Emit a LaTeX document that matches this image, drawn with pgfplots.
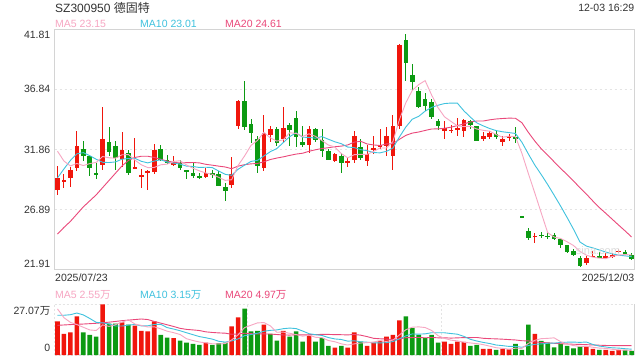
\documentclass[border=0pt]{standalone}
\usepackage{fontspec}
\setmainfont{Liberation Sans}
\newfontfamily\cjk{Noto Sans CJK SC}
\usepackage{pgfplots}
\usepackage{pgfplotstable}
\pgfplotsset{compat=1.18}

\definecolor{cUp}{RGB}{240,22,12}
\definecolor{cDn}{RGB}{12,154,18}
\definecolor{cMAa}{RGB}{247,166,194}
\definecolor{cMAb}{RGB}{64,194,222}
\definecolor{cMAc}{RGB}{234,72,122}
\definecolor{cFrame}{RGB}{212,212,212}
\definecolor{cGrid}{RGB}{228,228,228}
\definecolor{cTxt}{RGB}{51,51,51}

\pgfplotstableread{
n o h l c
1 28.54 30.48 28.05 29.51
2 29.15 29.79 28.63 29.37
3 29.46 30.45 28.77 30.20
4 30.31 33.38 30.04 32.19
8 30.58 35.40 30.16 32.69
11 31.07 33.31 30.37 31.78
13 30.34 32.83 30.34 30.39
14 29.65 30.26 28.68 29.69
15 30.02 30.14 28.54 30.05
16 29.98 32.28 29.79 31.80
19 30.58 31.28 30.49 30.78
24 29.56 30.33 29.46 29.87
28 28.88 31.22 28.68 29.85
29 33.79 35.95 33.58 35.84
33 30.29 34.68 30.06 33.19
34 33.10 33.79 32.47 33.52
36 32.69 35.40 32.47 33.68
40 32.27 33.79 31.59 33.52
44 30.89 31.53 30.84 31.45
46 30.70 31.17 30.43 30.89
47 30.97 33.38 30.70 33.01
49 30.89 32.27 30.53 31.45
50 31.80 32.96 31.45 32.00
51 32.05 33.52 31.86 32.27
52 32.13 33.74 31.36 33.02
53 31.36 34.76 30.14 33.79
54 33.79 40.62 33.52 40.51
61 33.38 34.21 32.69 33.66
62 33.44 33.85 33.24 33.48
63 33.55 34.49 33.02 33.60
64 33.38 34.35 32.91 34.27
67 32.69 33.29 32.55 32.96
68 32.91 33.38 32.69 33.24
70 32.52 33.02 32.13 32.77
71 32.86 33.16 32.55 32.96
75 24.65 24.95 24.07 24.69
83 22.41 23.01 22.30 22.88
84 22.99 23.43 22.96 23.03
86 22.95 23.24 22.80 22.98
87 22.96 23.29 22.88 23.15
88 23.40 23.65 23.24 23.44
}\candUp

\pgfplotstableread{
n o h l c
5 31.86 32.57 30.89 31.36
6 31.28 31.36 29.66 30.34
7 29.89 30.76 29.41 29.84
9 32.50 33.74 31.31 31.64
10 32.19 32.55 30.20 31.17
12 31.59 31.78 29.75 29.90
17 31.86 32.25 30.87 31.03
18 30.95 31.40 30.62 30.70
20 30.70 31.03 30.12 30.34
21 30.12 30.13 29.41 30.07
22 29.93 30.78 29.50 29.65
23 29.64 29.87 29.43 29.60
25 29.85 30.16 29.46 29.80
26 29.79 30.08 28.82 28.82
27 28.79 29.10 27.55 28.40
30 35.90 37.50 33.46 33.71
31 33.99 34.35 32.42 33.19
32 32.69 33.02 29.93 30.48
35 33.58 33.71 32.13 32.42
37 33.85 34.02 32.19 33.44
38 34.49 35.04 32.05 32.88
39 32.52 33.79 32.03 32.27
41 33.60 33.66 32.47 32.63
42 32.61 33.52 31.26 31.72
43 31.72 31.92 30.95 31.03
45 31.31 31.59 29.93 30.76
48 32.08 32.69 30.97 31.17
55 40.98 41.40 37.52 39.05
56 38.00 38.99 36.78 37.44
57 36.75 37.06 35.26 35.40
58 36.01 36.56 35.04 35.45
59 35.78 36.01 34.39 34.57
60 34.21 34.41 33.46 33.79
65 34.21 34.29 33.52 33.88
66 33.79 33.81 32.53 32.55
69 33.16 33.38 32.69 32.88
72 32.86 33.71 32.42 32.82
73 26.26 26.26 26.26 26.26
74 25.09 25.37 24.36 24.54
76 24.81 25.02 24.52 24.67
77 24.70 24.95 24.46 24.66
78 24.73 24.90 24.34 24.46
79 24.46 24.48 23.71 23.90
80 23.90 23.98 23.24 23.34
81 23.43 23.57 23.01 23.15
82 22.88 23.07 22.10 22.24
85 23.01 23.34 22.88 22.93
89 23.31 23.49 23.10 23.27
90 23.15 23.24 22.66 22.74
}\candDn

\pgfplotstableread{
n v
1 18.03
2 11.37
3 12.09
4 20.75
8 27.07
11 17.51
13 15.70
14 12.99
15 12.63
16 18.03
19 9.02
24 6.68
28 15.34
29 20.21
33 16.24
36 12.99
40 10.47
44 3.97
46 3.97
47 12.09
49 4.87
50 6.68
51 7.58
52 9.91
53 10.83
54 18.57
61 7.22
62 5.96
63 7.22
64 7.04
67 3.25
68 3.25
70 3.25
71 3.07
75 11.37
83 4.51
84 3.25
86 2.71
87 2.17
88 2.71
}\volUp

\pgfplotstableread{
n v
5 12.09
6 10.83
7 9.91
9 16.78
10 16.78
12 16.24
17 10.83
18 9.38
20 7.76
21 6.68
22 5.96
23 5.41
25 5.41
26 6.32
27 6.68
30 24.90
31 12.63
32 12.99
34 11.37
35 7.76
37 9.91
38 12.63
39 7.22
41 7.22
42 9.02
43 4.87
45 4.87
48 7.22
55 20.75
56 14.44
57 10.83
58 9.02
59 10.83
60 6.68
65 4.87
66 5.41
69 2.71
72 5.96
73 2.71
74 16.24
76 7.58
77 6.68
78 4.15
79 5.96
80 4.87
81 3.61
82 4.51
85 2.71
89 2.71
90 2.17
}\volDn

\pgfplotsset{
  wick/.style={forget plot, draw=none, mark=none,
    error bars/.cd, y dir=both, y explicit, error mark=none,
    error bar style={solid, draw=#1, line width=0.9bp}},
  body/.style={forget plot, draw=none, mark=none,
    error bars/.cd, y dir=both, y explicit, error mark=none,
    error bar style={solid, draw=#1, line width=4.6bp}},
}

\begin{document}
\begin{tikzpicture}
\fill[white] (0,0) rectangle (640bp,360bp);
\path[use as bounding box] (0,0) rectangle (640bp,360bp);

% ---------- price panel ----------
\begin{axis}[
  at={(54.5bp,90.5bp)}, anchor=south west,
  scale only axis, width=580bp, height=240bp,
  xmin=0.535, xmax=90.457, ymin=21.91, ymax=41.81,
  axis line style={draw=cFrame, line width=1bp},
  xtick=\empty,
  ytick={26.89,31.86,36.84}, yticklabels={},
  major tick length=0pt,
  ymajorgrids,
  grid style={draw=cGrid, line width=1.5bp, dash pattern=on 2.5bp off 2.5bp},
]
\addplot[wick=cUp] table[x=n, y expr={(\thisrow{h}+\thisrow{l})/2}, y error expr={(\thisrow{h}-\thisrow{l})/2}] {\candUp};
\addplot[wick=cDn] table[x=n, y expr={(\thisrow{h}+\thisrow{l})/2}, y error expr={(\thisrow{h}-\thisrow{l})/2}] {\candDn};
\addplot[body=cUp] table[x=n, y expr={(\thisrow{o}+\thisrow{c})/2}, y error expr={max(abs(\thisrow{o}-\thisrow{c})/2,0.045)}] {\candUp};
\addplot[body=cDn] table[x=n, y expr={(\thisrow{o}+\thisrow{c})/2}, y error expr={max(abs(\thisrow{o}-\thisrow{c})/2,0.045)}] {\candDn};

% MA20
\addplot[cMAc, line width=0.9bp] coordinates {(1,24.85)(2,25.4)(3,25.9)(4,26.5)(5,27.1)(6,27.6)(7,28.1)(8,28.7)(9,29.3)(10,29.9)(11,30.5)(12,30.95)(13,31.2)(14,31.3)(15,31.3)(16,31.2)(17,31.05)(18,30.9)(19,30.8)(20,30.74)(21,30.77)(22,30.78)(23,30.75)(24,30.63)(25,30.56)(26,30.48)(27,30.41)(28,30.27)(29,30.48)(30,30.60)(31,30.67)(32,30.70)(33,30.84)(34,31.03)(35,31.15)(36,31.25)(37,31.37)(38,31.48)(39,31.55)(40,31.71)(41,31.84)(42,31.94)(43,32.01)(44,32.09)(45,32.14)(46,32.24)(47,32.47)(48,32.54)(49,32.32)(50,32.24)(51,32.19)(52,32.32)(53,32.35)(54,32.70)(55,33.03)(56,33.22)(57,33.31)(58,33.44)(59,33.56)(60,33.57)(61,33.62)(62,33.71)(63,33.84)(64,33.98)(65,34.14)(66,34.22)(67,34.22)(68,34.32)(69,34.39)(70,34.43)(71,34.46)(72,34.45)(73,34.08)(74,33.28)(75,32.56)(76,31.92)(77,31.39)(78,30.84)(79,30.30)(80,29.78)(81,29.25)(82,28.69)(83,28.16)(84,27.59)(85,27.05)(86,26.57)(87,26.08)(88,25.59)(89,25.11)(90,24.61)};
% MA10
\addplot[cMAb, line width=0.9bp] coordinates {(1,29.50)(2,30.25)(3,30.95)(4,31.5)(5,31.6)(6,31.35)(7,31.05)(8,30.8)(9,30.78)(10,30.83)(11,31.06)(12,31.11)(13,31.13)(14,30.88)(15,30.75)(16,30.90)(17,31.01)(18,30.82)(19,30.73)(20,30.65)(21,30.48)(22,30.45)(23,30.37)(24,30.39)(25,30.36)(26,30.07)(27,29.80)(28,29.72)(29,30.22)(30,30.56)(31,30.87)(32,30.96)(33,31.32)(34,31.68)(35,31.94)(36,32.43)(37,32.93)(38,33.24)(39,32.88)(40,32.86)(41,32.80)(42,32.93)(43,32.71)(44,32.50)(45,32.34)(46,32.06)(47,32.02)(48,31.85)(49,31.76)(50,31.61)(51,31.58)(52,31.71)(53,31.98)(54,32.89)(55,33.72)(56,34.37)(57,34.61)(58,35.04)(59,35.35)(60,35.53)(61,35.67)(62,35.71)(63,35.70)(64,35.07)(65,34.55)(66,34.07)(67,33.82)(68,33.60)(69,33.43)(70,33.33)(71,33.26)(72,33.19)(73,32.46)(74,31.49)(75,30.57)(76,29.78)(77,28.95)(78,28.07)(79,27.17)(80,26.23)(81,25.25)(82,24.19)(83,23.85)(84,23.70)(85,23.53)(86,23.36)(87,23.21)(88,23.10)(89,23.04)(90,22.98)};
% MA5
\addplot[cMAa, line width=0.9bp] coordinates {(1,31.72)(2,30.9)(3,30.5)(4,30.7)(5,30.53)(6,30.69)(7,30.79)(8,31.28)(9,31.17)(10,31.14)(11,31.42)(12,31.44)(13,30.98)(14,30.59)(15,30.36)(16,30.37)(17,30.59)(18,30.65)(19,30.87)(20,30.93)(21,30.58)(22,30.31)(23,30.09)(24,29.91)(25,29.80)(26,29.55)(27,29.30)(28,29.35)(29,30.54)(30,31.32)(31,32.20)(32,32.61)(33,33.28)(34,32.82)(35,32.56)(36,32.66)(37,33.25)(38,33.19)(39,32.94)(40,33.16)(41,32.95)(42,32.60)(43,32.23)(44,32.07)(45,31.52)(46,31.17)(47,31.43)(48,31.46)(49,31.46)(50,31.70)(51,31.98)(52,31.98)(53,32.51)(54,34.32)(55,35.73)(56,36.76)(57,37.24)(58,37.57)(59,36.38)(60,35.33)(61,34.57)(62,34.19)(63,33.82)(64,33.76)(65,33.78)(66,33.56)(67,33.45)(68,33.38)(69,33.10)(70,32.88)(71,32.96)(72,32.93)(73,31.54)(74,29.87)(75,28.25)(76,26.60)(77,24.96)(78,24.60)(79,24.48)(80,24.21)(81,23.90)(82,23.42)(83,23.10)(84,22.93)(85,22.85)(86,22.81)(87,22.99)(88,23.11)(89,23.15)(90,23.12)};
\end{axis}

% ---------- volume panel ----------
\begin{axis}[
  at={(54.5bp,5bp)}, anchor=south west,
  scale only axis, width=580bp, height=50.5bp,
  xmin=0.535, xmax=90.457, ymin=0, ymax=27.07,
  axis line style={draw=none},
  xtick={0.535,30.51,60.48}, xticklabels={},
  ytick={0,27.07}, yticklabels={},
  major tick length=0pt,
  xmajorgrids, ymajorgrids,
  grid style={draw=cGrid, line width=1.2bp, dash pattern=on 2bp off 2bp},
  clip=false,
]
\addplot[ybar, bar width=4.6bp, bar shift=0pt, fill=cUp, draw=none] table[x=n, y=v] {\volUp};
\addplot[ybar, bar width=4.6bp, bar shift=0pt, fill=cDn, draw=none] table[x=n, y=v] {\volDn};
% MA20
\addplot[cMAc, line width=0.9bp] coordinates {(1,15.9)(3,16.3)(5,16.6)(7,17.0)(9,17.6)(11,18.4)(13,19.0)(14,19.3)(15,19.0)(16,18.0)(17,17.1)(18,16.2)(19,15.3)(20,14.29)(21,13.72)(22,13.45)(23,13.12)(24,12.41)(25,12.08)(26,11.85)(27,11.69)(28,11.11)(29,11.28)(30,11.68)(31,11.44)(32,11.28)(33,11.30)(34,11.22)(35,10.98)(36,10.73)(37,10.68)(38,10.84)(39,10.75)(40,10.89)(41,10.92)(42,11.07)(43,11.04)(44,10.91)(45,10.88)(46,10.76)(47,11.03)(48,10.63)(49,9.86)(50,8.95)(51,8.70)(52,8.54)(53,8.27)(54,8.63)(55,9.28)(56,9.35)(57,9.40)(58,9.22)(59,9.40)(60,9.21)(61,9.21)(62,9.06)(63,9.18)(64,9.33)(65,9.33)(66,9.40)(67,8.96)(68,8.76)(69,8.65)(70,8.48)(71,8.26)(72,8.06)(73,7.65)(74,7.54)(75,7.07)(76,6.72)(77,6.52)(78,6.27)(79,6.03)(80,5.94)(81,5.76)(82,5.69)(83,5.55)(84,5.36)(85,5.25)(86,5.12)(87,5.06)(88,5.04)(89,5.04)(90,4.98)};
% MA10
\addplot[cMAb, line width=0.9bp] coordinates {(1,21.3)(2,21.3)(3,21.6)(4,22.5)(5,21.5)(6,19.6)(7,17.5)(8,17.2)(9,16.6)(10,15.57)(11,15.52)(12,16.01)(13,16.37)(14,15.59)(15,15.64)(16,16.36)(17,16.46)(18,14.69)(19,13.91)(20,13.01)(21,11.93)(22,10.90)(23,9.87)(24,9.24)(25,8.52)(26,7.35)(27,6.93)(28,7.53)(29,8.65)(30,10.36)(31,10.95)(32,11.66)(33,12.74)(34,13.21)(35,13.44)(36,14.11)(37,14.43)(38,14.16)(39,12.86)(40,11.42)(41,10.88)(42,10.48)(43,9.35)(44,8.61)(45,8.32)(46,7.42)(47,7.63)(48,7.09)(49,6.86)(50,6.48)(51,6.51)(52,6.60)(53,7.20)(54,8.66)(55,10.25)(56,11.29)(57,11.17)(58,11.35)(59,11.94)(60,11.94)(61,11.91)(62,11.51)(63,11.15)(64,10.00)(65,8.41)(66,7.51)(67,6.75)(68,6.17)(69,5.36)(70,5.02)(71,4.60)(72,4.60)(73,4.15)(74,5.07)(75,5.72)(76,5.94)(77,6.28)(78,6.37)(79,6.70)(80,6.86)(81,6.91)(82,6.77)(83,6.95)(84,5.65)(85,4.78)(86,4.30)(87,3.85)(88,3.70)(89,3.38)(90,3.11)};
% MA5
\addplot[cMAa, line width=0.9bp] coordinates {(1,24.7)(2,20.0)(3,17.5)(4,16.3)(5,14.87)(6,13.43)(7,13.13)(8,16.13)(9,15.34)(10,16.27)(11,17.61)(12,18.88)(13,16.60)(14,15.84)(15,15.01)(16,15.12)(17,14.04)(18,12.77)(19,11.98)(20,11.00)(21,8.73)(22,7.76)(23,6.97)(24,6.50)(25,6.03)(26,5.96)(27,6.10)(28,8.09)(29,10.79)(30,14.69)(31,15.95)(32,17.21)(33,17.39)(34,15.63)(35,12.20)(36,12.27)(37,11.65)(38,10.93)(39,10.10)(40,10.64)(41,9.49)(42,9.31)(43,7.76)(44,7.11)(45,5.99)(46,5.34)(47,5.95)(48,6.42)(49,6.60)(50,6.97)(51,7.69)(52,7.25)(53,7.97)(54,10.71)(55,13.53)(56,14.90)(57,15.08)(58,14.72)(59,13.17)(60,10.36)(61,8.92)(62,7.94)(63,7.58)(64,6.82)(65,6.46)(66,6.10)(67,5.56)(68,4.76)(69,3.90)(70,3.57)(71,3.11)(72,3.65)(73,3.54)(74,6.25)(75,7.87)(76,8.77)(77,8.92)(78,9.20)(79,7.15)(80,5.85)(81,5.05)(82,4.62)(83,4.69)(84,4.15)(85,3.72)(86,3.54)(87,3.07)(88,2.71)(89,2.60)(90,2.49)};
\draw[cFrame, line width=1bp] (rel axis cs:1,0) -- (rel axis cs:1,1);
\end{axis}

% ---------- texts ----------
\begin{scope}[every node/.style={inner sep=0pt, text=cTxt, font=\fontsize{10.5bp}{12bp}\selectfont}]
\node[anchor=base west, font=\fontsize{12bp}{14bp}\selectfont] at (55bp,347.5bp) {SZ300950 {\cjk 德固特}};
\node[anchor=base east] at (634.5bp,348bp) {12-03 16:29};
\node[anchor=base west, text=cMAa] at (55bp,332bp) {MA5 23.15};
\node[anchor=base west, text=cMAb] at (140bp,332bp) {MA10 23.01};
\node[anchor=base west, text=cMAc] at (225bp,332bp) {MA20 24.61};
\node[anchor=base east] at (50.5bp,321.7bp) {41.81};
\node[anchor=base east] at (50.5bp,267bp) {36.84};
\node[anchor=base east] at (50.5bp,206.7bp) {31.86};
\node[anchor=base east] at (50.5bp,146.7bp) {26.89};
\node[anchor=base east] at (50.5bp,92.5bp) {21.91};
\node[anchor=base west] at (55bp,78.3bp) {2025/07/23};
\node[anchor=base east] at (634.5bp,78.3bp) {2025/12/03};
\node[anchor=base west, text=cMAa] at (55bp,61.7bp) {MA5 2.55{\cjk 万}};
\node[anchor=base west, text=cMAb] at (140bp,61.7bp) {MA10 3.15{\cjk 万}};
\node[anchor=base west, text=cMAc] at (225bp,61.7bp) {MA20 4.97{\cjk 万}};
\node[anchor=base east] at (50.5bp,45bp) {27.07{\cjk 万}};
\node[anchor=base east] at (50.5bp,8.3bp) {0};
\node[anchor=center, text=black!14, font=\fontsize{11bp}{12bp}\selectfont] at (598bp,109bp) {sina.com};
\end{scope}
\end{tikzpicture}
\end{document}
